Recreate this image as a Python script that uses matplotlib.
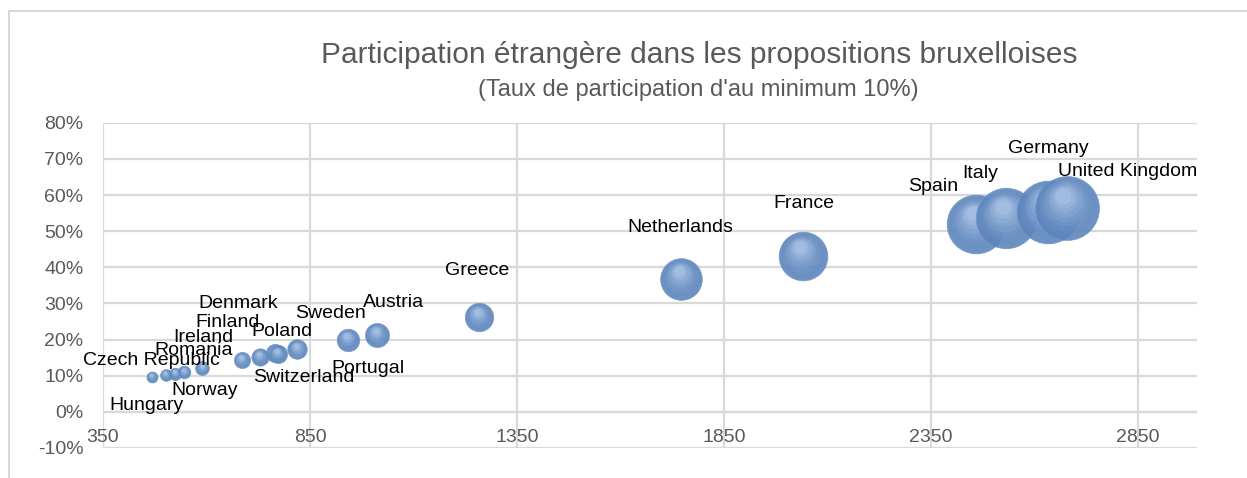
import matplotlib
matplotlib.use("Agg")
import matplotlib.pyplot as plt
import numpy as np
from matplotlib.lines import Line2D
from matplotlib.ticker import FuncFormatter, MultipleLocator
from matplotlib import transforms
from matplotlib.colors import to_rgb

# Data
countries = ["Hungary", "Czech Republic", "Norway", "Romania", "Ireland",
             "Finland", "Denmark", "Poland", "Switzerland", "Sweden",
             "Portugal", "Austria", "Greece", "Netherlands", "France",
             "Spain", "Italy", "Germany", "United Kingdom"]
proposals = [468, 501, 524, 546, 590, 685, 729, 765, 772, 819,
             941, 1012, 1258, 1747, 2040, 2459, 2531, 2633, 2678]
rate = [0.097, 0.102, 0.106, 0.110, 0.121, 0.143, 0.152, 0.162, 0.159, 0.173,
        0.199, 0.212, 0.262, 0.368, 0.431, 0.519, 0.536, 0.554, 0.565]
participations = [45, 51, 56, 60, 71, 98, 111, 124, 123, 142,
                  187, 215, 300, 643, 879, 1278, 1357, 1459, 1513]
x_ticks = [350, 850, 1350, 1850, 2350, 2850]

# label offsets from bubble centre, in pixels (dx, dy up)
label_offsets = {
    "Hungary": (-5, -29), "Czech Republic": (-14, 15), "Norway": (30, -17),
    "Romania": (9, 22), "Ireland": (1, 31), "Finland": (-14, 38),
    "Denmark": (-22, 53), "Poland": (7, 22), "Switzerland": (26, -23),
    "Sweden": (33, 36), "Portugal": (20, -29), "Austria": (16, 33),
    "Greece": (-2, 47), "Netherlands": (-1, 51), "France": (1, 53),
    "Spain": (-43, 38), "Italy": (-26, 45), "Germany": (0, 63),
    "United Kingdom": (61, 36),
}

plt.rcParams["font.family"] = ["Liberation Sans", "DejaVu Sans"]

fig = plt.figure(figsize=(12.47, 4.78), dpi=100)
ax = fig.add_axes([0.0826, 0.0628, 0.8774, 0.6802])

grid_col = "#d9d9d9"
ax.set_xlim(350, 2993)
ax.set_ylim(-0.10, 0.80)
ax.set_xticks(x_ticks)
ax.yaxis.set_major_locator(MultipleLocator(0.10))
ax.yaxis.set_major_formatter(FuncFormatter(lambda v, p: f"{v * 100:.0f}%"))
ax.grid(True, color=grid_col, linewidth=1.6)
ax.set_axisbelow(True)
for s in ax.spines.values():
    s.set_visible(False)
ax.axhline(0, color=grid_col, linewidth=1.6, zorder=1)
ax.tick_params(length=0, labelsize=14, labelcolor="#595959")
ax.tick_params(axis="x", pad=-13.5)
ax.tick_params(axis="y", pad=14)

# bubbles: base disc plus stacked translucent discs for a soft highlight
k = 1.4
dark = np.array(to_rgb("#5a84bb"))
light = np.array(to_rgb("#c3d7f2"))
n_layers = 9
for i, name in enumerate(countries):
    s = participations[i] * k
    r_pt = s ** 0.5 / 2
    z = 3 + i * 0.01
    ax.scatter(proposals[i], rate[i], s=s, color=dark, alpha=0.88,
               edgecolors="#6f95c8", linewidths=0.5, zorder=z)
    for j in range(1, n_layers):
        t = j / n_layers
        frac = 1 - 0.85 * t
        col = dark + (light - dark) * t
        tr = transforms.offset_copy(ax.transData, fig=fig, x=-0.12 * r_pt * t,
                                    y=0.42 * r_pt * t, units="points")
        ax.scatter(proposals[i], rate[i], s=s * frac ** 2, color=col, alpha=0.35,
                   linewidths=0, transform=tr, zorder=z)
    ax.annotate(name, (proposals[i], rate[i]), xytext=label_offsets[name],
                textcoords="offset pixels", ha="center", va="center",
                fontsize=14, color="black", zorder=10)

fig.text(0.5605, 0.885, "Participation étrangère dans les propositions bruxelloises",
         ha="center", va="center", fontsize=21.5, color="#595959")
fig.text(0.5600, 0.812, "(Taux de participation d'au minimum 10%)",
         ha="center", va="center", fontsize=17, color="#595959")

# chart frame (top and left only visible)
fig.add_artist(Line2D([9 / 1247, 1], [1 - 11 / 478, 1 - 11 / 478], color="#d9d9d9", lw=1.5))
fig.add_artist(Line2D([9 / 1247, 9 / 1247], [0, 1 - 11 / 478], color="#d9d9d9", lw=1.5))

fig.savefig("out.png", dpi=100)
